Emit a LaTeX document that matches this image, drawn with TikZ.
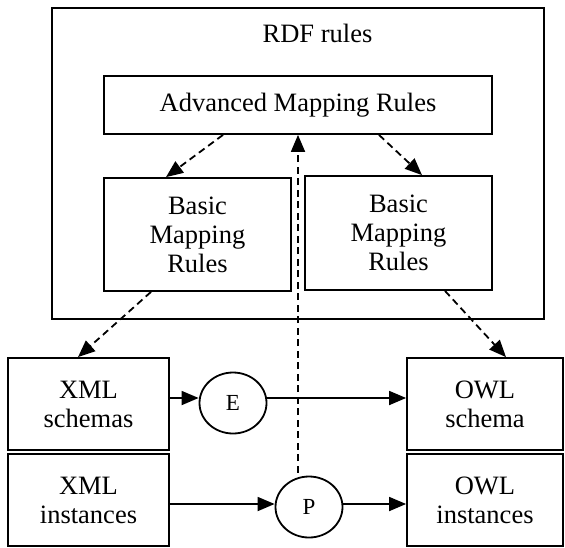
\documentclass[tikz,border=0pt]{standalone}
\usepackage{fontspec}
\setmainfont{Liberation Serif}
\usetikzlibrary{arrows.meta,shapes.geometric}
\begin{document}
\begin{tikzpicture}[x=1pt,y=-1pt,
  every node/.style={font=\fontsize{26.5}{29}\selectfont, inner sep=0pt, align=center},
  box/.style={draw, line width=1.8pt, rectangle},
  circ/.style={draw, line width=1.8pt, ellipse, minimum width=67pt, minimum height=61pt},
  arr/.style={line width=1.8pt, -{Triangle[length=17pt,width=14pt]}},
  darr/.style={arr, dash pattern=on 7pt off 4.5pt}]
\useasboundingbox[fill=white] (0,0) rectangle (565,547);
\node[box, minimum width=492pt, minimum height=311pt] (outer) at (298,163.5) {};
\node (title) at (317.5,33) {RDF rules};
\node[box, minimum width=388pt, minimum height=58pt] (adv) at (298,105) {Advanced Mapping Rules};
\node[box, minimum width=187pt, minimum height=113pt] (bl) at (197.5,234.5) {Basic\\Mapping\\Rules};
\node[box, minimum width=187pt, minimum height=114pt] (br) at (398.5,233) {Basic\\Mapping\\Rules};
\node[box, minimum width=161pt, minimum height=92pt] (xs) at (88.5,404) {XML\\schemas};
\node[box, minimum width=161pt, minimum height=92pt] (xi) at (88.5,500) {XML\\instances};
\node[box, minimum width=156pt, minimum height=92pt] (os) at (485,404) {OWL\\schema};
\node[box, minimum width=156pt, minimum height=92pt] (oi) at (485,500) {OWL\\instances};
\node[circ, font=\fontsize{23}{26}\selectfont] (E) at (233,403) {E};
\node[circ, font=\fontsize{23}{26}\selectfont] (P) at (309,507) {P};
% solid arrows
\draw[arr] ([yshift=6pt]xs.east) -- ([yshift=5pt]E.west);
\draw[arr] ([yshift=5pt]E.east) -- ([yshift=6pt]os.west);
\draw[arr] ([yshift=-4pt]xi.east) -- ([yshift=3pt]P.west);
\draw[arr] ([yshift=3pt]P.east) -- ([yshift=-4pt]oi.west);
% dashed arrows
\draw[darr] ([xshift=-75pt]adv.south) -- ([xshift=-31.5pt]bl.north);
\draw[darr] ([xshift=81pt]adv.south) -- ([xshift=23.5pt]br.north);
\draw[darr] ([xshift=-46.5pt]bl.south) -- ([xshift=-10.5pt]xs.north);
\draw[darr] ([xshift=46.5pt]br.south) -- ([xshift=21pt]os.north);
\draw[darr] ([yshift=3pt]adv.south |- P.north) -- (adv.south);
\end{tikzpicture}
\end{document}
